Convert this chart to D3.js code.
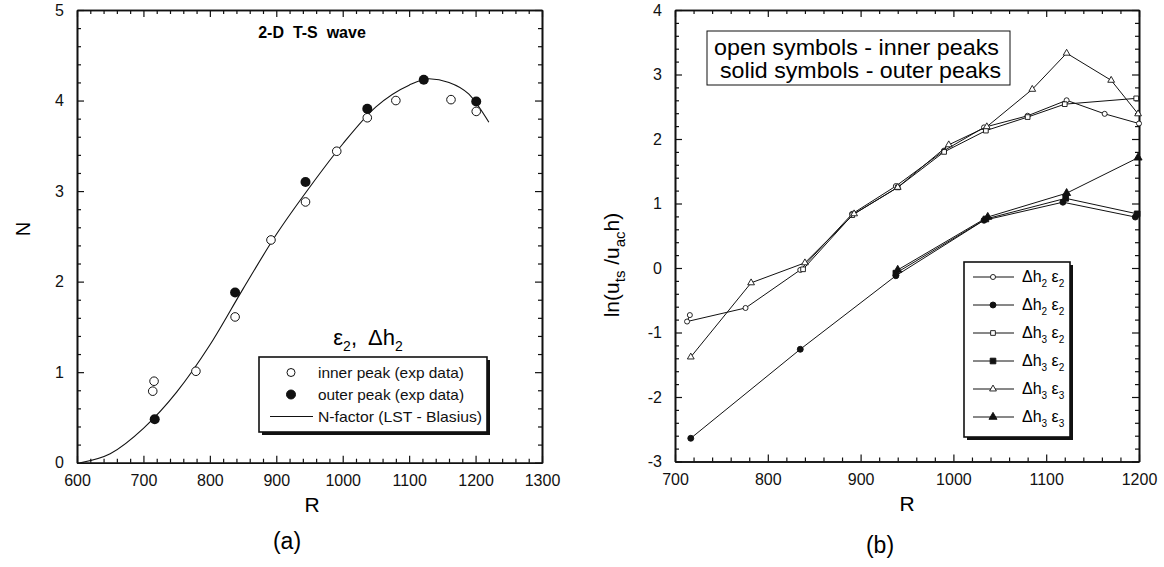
<!DOCTYPE html>
<html>
<head>
<meta charset="utf-8">
<script src="https://cdn.jsdelivr.net/npm/d3@7"></script>
<style>
  body { margin: 0; background: #fff; }
  svg { display: block; font-family: "Liberation Sans", Arial, Helvetica, sans-serif; }
</style>
</head>
<body>
<svg id="fig" width="1164" height="567"></svg>
<script>
// ---------- Panel (a): N-factor growth of the 2-D T-S wave ----------
const aTicksX = [600, 700, 800, 900, 1000, 1100, 1200, 1300];
const aTicksY = [0, 1, 2, 3, 4, 5];

// LST (Blasius) N-factor curve
const nfactorR = [605, 650, 700, 750, 800, 850, 900, 950, 1000, 1050, 1100, 1130, 1160, 1190, 1220];
const nfactorN = [0, 0.1, 0.38, 0.78, 1.3, 1.92, 2.52, 3.04, 3.52, 3.93, 4.17, 4.24, 4.2, 4.07, 3.76];

// experimental data, inner peak (open) and outer peak (solid)
const innerR = [716, 714, 779, 838, 892, 944, 991, 1037, 1080, 1163, 1201];
const innerN = [0.90, 0.79, 1.01, 1.61, 2.46, 2.88, 3.44, 3.81, 4.00, 4.01, 3.88];
const outerR = [717, 838, 944, 1037, 1122, 1201];
const outerN = [0.48, 1.88, 3.10, 3.91, 4.23, 3.99];

// ---------- Panel (b): ln(u_ts / u_ac h) ----------
const bTicksX = [700, 800, 900, 1000, 1100, 1200];
const bTicksY = [-3, -2, -1, 0, 1, 2, 3, 4];

// inner peaks (open symbols)
const h2e2InnerR = [716, 713, 776, 835, 891, 938, 990, 1033, 1080, 1122, 1163, 1200];
const h2e2InnerV = [-0.73, -0.83, -0.62, -0.03, 0.84, 1.27, 1.82, 2.18, 2.36, 2.60, 2.39, 2.24];
const h3e2InnerR = [838, 891, 940, 990, 1035, 1080, 1120, 1197];
const h3e2InnerV = [-0.02, 0.82, 1.25, 1.80, 2.13, 2.34, 2.54, 2.63];
const h3e3InnerR = [717, 782, 840, 893, 940, 995, 1036, 1085, 1122, 1170, 1199];
const h3e3InnerV = [-1.38, -0.23, 0.08, 0.84, 1.25, 1.91, 2.19, 2.77, 3.33, 2.91, 2.39];

// outer peaks (solid symbols)
const h2e2OuterR = [717, 835, 938, 1033, 1118, 1196];
const h2e2OuterV = [-2.64, -1.26, -0.12, 0.74, 1.02, 0.79];
const h3e2OuterR = [938, 1035, 1121, 1198];
const h3e2OuterV = [-0.08, 0.76, 1.08, 0.84];
const h3e3OuterR = [940, 1037, 1122, 1199];
const h3e3OuterV = [-0.03, 0.79, 1.16, 1.71];

const zip = (xs, ys) => xs.map((x, i) => [x, ys[i]]);

const svg = d3.select("#fig");
const INK = "#111";
const tickFmt = v => String(v); // plain hyphen for negatives

// Framed plot box with inward ticks on all four sides
function drawFrame(g, x, y, ticksX, ticksY, minorStepX, minorStepY) {
  const [x0, x1] = x.range();
  const [y0, y1] = y.range(); // y0 = bottom, y1 = top
  const dx = x.domain(), dy = y.domain();
  const minorX = d3.range(dx[0], dx[1] + 1e-9, minorStepX).filter(v => !ticksX.includes(Math.round(v)));
  const minorY = d3.range(dy[0], dy[1] + 1e-9, minorStepY)
    .filter(v => !ticksY.some(t => Math.abs(t - v) < 1e-6));

  const major = 7, minor = 4;
  const styleAxis = sel => {
    sel.attr("font-family", null).attr("font-size", null);
    sel.select(".domain").attr("stroke", INK).attr("stroke-width", 1.6);
    sel.selectAll(".tick line").attr("stroke", INK).attr("stroke-width", 1.2);
    sel.selectAll("text").attr("fill", INK).attr("font-size", 16);
  };

  // bottom
  g.append("g").attr("transform", `translate(0,${y0})`)
    .call(d3.axisBottom(x).tickValues(ticksX).tickSizeInner(-major).tickSizeOuter(0).tickPadding(12).tickFormat(tickFmt))
    .call(styleAxis);
  g.append("g").attr("transform", `translate(0,${y0})`)
    .call(d3.axisBottom(x).tickValues(minorX).tickSizeInner(-minor).tickSizeOuter(0).tickFormat(""))
    .call(styleAxis);
  // top
  g.append("g").attr("transform", `translate(0,${y1})`)
    .call(d3.axisTop(x).tickValues(ticksX).tickSizeInner(-major).tickSizeOuter(0).tickFormat(""))
    .call(styleAxis);
  g.append("g").attr("transform", `translate(0,${y1})`)
    .call(d3.axisTop(x).tickValues(minorX).tickSizeInner(-minor).tickSizeOuter(0).tickFormat(""))
    .call(styleAxis);
  // left
  g.append("g").attr("transform", `translate(${x0},0)`)
    .call(d3.axisLeft(y).tickValues(ticksY).tickSizeInner(-major).tickSizeOuter(0).tickPadding(13).tickFormat(tickFmt))
    .call(styleAxis);
  g.append("g").attr("transform", `translate(${x0},0)`)
    .call(d3.axisLeft(y).tickValues(minorY).tickSizeInner(-minor).tickSizeOuter(0).tickFormat(""))
    .call(styleAxis);
  // right
  g.append("g").attr("transform", `translate(${x1},0)`)
    .call(d3.axisRight(y).tickValues(ticksY).tickSizeInner(-major).tickSizeOuter(0).tickFormat(""))
    .call(styleAxis);
  g.append("g").attr("transform", `translate(${x1},0)`)
    .call(d3.axisRight(y).tickValues(minorY).tickSizeInner(-minor).tickSizeOuter(0).tickFormat(""))
    .call(styleAxis);
}

// Text with subscripts: parts = [[text, isSub], ...]
function richText(sel, parts, size, subSize, subShift) {
  let lowered = false;
  parts.forEach(([t, sub]) => {
    const ts = sel.append("tspan").text(t);
    if (sub) {
      ts.attr("font-size", subSize).attr("dy", subShift);
      lowered = true;
    } else {
      ts.attr("font-size", size);
      if (lowered) { ts.attr("dy", -subShift); lowered = false; }
    }
  });
  return sel;
}

function shadowBox(g, x, y, w, h) {
  g.append("rect").attr("x", x + 3).attr("y", y + 3).attr("width", w).attr("height", h).attr("fill", INK);
  g.append("rect").attr("x", x).attr("y", y).attr("width", w).attr("height", h)
    .attr("fill", "#fff").attr("stroke", INK).attr("stroke-width", 1.6);
}

// ================= Panel (a) =================
const ax = d3.scaleLinear().domain([600, 1300]).range([77, 542]);
const ay = d3.scaleLinear().domain([0, 5]).range([462.7, 10]);
const ga = svg.append("g");
drawFrame(ga, ax, ay, aTicksX, aTicksY, 20, 0.2);

ga.append("path")
  .datum(zip(nfactorR, nfactorN))
  .attr("fill", "none").attr("stroke", INK).attr("stroke-width", 1.1)
  .attr("d", d3.line().x(d => ax(d[0])).y(d => ay(d[1])).curve(d3.curveMonotoneX));

ga.selectAll("circle.inner").data(zip(innerR, innerN)).join("circle")
  .attr("class", "inner").attr("cx", d => ax(d[0])).attr("cy", d => ay(d[1])).attr("r", 4.3)
  .attr("fill", "#fff").attr("stroke", INK).attr("stroke-width", 1);
ga.selectAll("circle.outer").data(zip(outerR, outerN)).join("circle")
  .attr("class", "outer").attr("cx", d => ax(d[0])).attr("cy", d => ay(d[1])).attr("r", 5)
  .attr("fill", INK);

ga.append("text").attr("x", 312).attr("y", 38).attr("text-anchor", "middle")
  .attr("font-size", 16).attr("font-weight", "bold").attr("xml:space", "preserve")
  .text("2-D  T-S  wave");

richText(ga.append("text").attr("x", 368).attr("y", 345).attr("text-anchor", "middle").attr("font-size", 22)
  .attr("xml:space", "preserve"),
  [["\u03B5", false], ["2", true], [",  \u0394h", false], ["2", true]], 22, 14, 6);

// legend (a)
shadowBox(ga, 259, 357, 228, 75);
const legA = [
  { label: "inner peak (exp data)", kind: "open", len: 146 },
  { label: "outer peak (exp data)", kind: "solid", len: 146 },
  { label: "N-factor (LST - Blasius)", kind: "line", len: 164 }
];
legA.forEach((d, i) => {
  const yy = 372.5 + i * 22;
  if (d.kind === "line") {
    ga.append("line").attr("x1", 270).attr("x2", 313).attr("y1", yy).attr("y2", yy)
      .attr("stroke", INK).attr("stroke-width", 1);
  } else {
    ga.append("circle").attr("cx", 291).attr("cy", yy).attr("r", d.kind === "open" ? 4 : 4.5)
      .attr("fill", d.kind === "open" ? "#fff" : INK).attr("stroke", INK).attr("stroke-width", 1);
  }
  ga.append("text").attr("x", 318).attr("y", yy + 5).attr("font-size", 15).attr("fill", INK)
    .attr("textLength", d.len).attr("lengthAdjust", "spacingAndGlyphs").text(d.label);
});

// axis titles (a)
ga.append("text").attr("x", 312).attr("y", 512).attr("text-anchor", "middle").attr("font-size", 21).text("R");
ga.append("text").attr("transform", "translate(30,229) rotate(-90)").attr("text-anchor", "middle")
  .attr("font-size", 20).text("N");
ga.append("text").attr("x", 287).attr("y", 549).attr("text-anchor", "middle").attr("font-size", 23).text("(a)");

// ================= Panel (b) =================
const bx = d3.scaleLinear().domain([700, 1200]).range([675, 1139]);
const by = d3.scaleLinear().domain([-3, 4]).range([461.5, 10]);
const gb = svg.append("g");
drawFrame(gb, bx, by, bTicksX, bTicksY, 20, 0.2);

const series = [
  { R: h2e2InnerR, V: h2e2InnerV, sym: d3.symbolCircle, size: 20, fill: false, sub1: "2", sub2: "2" },
  { R: h2e2OuterR, V: h2e2OuterV, sym: d3.symbolCircle, size: 28, fill: true, sub1: "2", sub2: "2" },
  { R: h3e2InnerR, V: h3e2InnerV, sym: d3.symbolSquare, size: 22, fill: false, sub1: "3", sub2: "2" },
  { R: h3e2OuterR, V: h3e2OuterV, sym: d3.symbolSquare, size: 32, fill: true, sub1: "3", sub2: "2" },
  { R: h3e3InnerR, V: h3e3InnerV, sym: d3.symbolTriangle, size: 20, fill: false, sub1: "3", sub2: "3" },
  { R: h3e3OuterR, V: h3e3OuterV, sym: d3.symbolTriangle, size: 28, fill: true, sub1: "3", sub2: "3" }
];

const lineB = d3.line().x(d => bx(d[0])).y(d => by(d[1]));
series.forEach(s => {
  const pts = zip(s.R, s.V);
  gb.append("path").datum(pts).attr("fill", "none").attr("stroke", INK).attr("stroke-width", 1)
    .attr("d", lineB);
  gb.selectAll(null).data(pts).join("path")
    .attr("transform", d => `translate(${bx(d[0])},${by(d[1])})`)
    .attr("d", d3.symbol().type(s.sym).size(s.size))
    .attr("fill", s.fill ? INK : "#fff").attr("stroke", INK).attr("stroke-width", 0.9);
});

// annotation box
gb.append("rect").attr("x", 707).attr("y", 31).attr("width", 303).attr("height", 54)
  .attr("fill", "#fff").attr("stroke", INK).attr("stroke-width", 1);
gb.append("text").attr("x", 714).attr("y", 55).attr("font-size", 22)
  .attr("textLength", 285).attr("lengthAdjust", "spacingAndGlyphs")
  .text("open symbols - inner peaks");
gb.append("text").attr("x", 720).attr("y", 78).attr("font-size", 22)
  .attr("textLength", 281).attr("lengthAdjust", "spacingAndGlyphs")
  .text("solid symbols - outer peaks");

// legend (b)
shadowBox(gb, 964, 262, 106, 175);
series.forEach((s, i) => {
  const yy = 277 + i * 28;
  gb.append("line").attr("x1", 973).attr("x2", 1014).attr("y1", yy).attr("y2", yy)
    .attr("stroke", INK).attr("stroke-width", 1);
  gb.append("path").attr("transform", `translate(993,${yy})`)
    .attr("d", d3.symbol().type(s.sym).size(s.size))
    .attr("fill", s.fill ? INK : "#fff").attr("stroke", INK).attr("stroke-width", 0.9);
  richText(gb.append("text").attr("x", 1022).attr("y", yy + 5).attr("font-size", 16).attr("xml:space", "preserve"),
    [["\u0394h", false], [s.sub1, true], [" \u03B5", false], [s.sub2, true]], 16, 10, 5);
});

// axis titles (b)
gb.append("text").attr("x", 907).attr("y", 511).attr("text-anchor", "middle").attr("font-size", 21).text("R");
richText(gb.append("text").attr("transform", "translate(619,265) rotate(-90)").attr("text-anchor", "middle")
  .attr("font-size", 21).attr("xml:space", "preserve"),
  [["ln(u", false], ["ts", true], [" /u", false], ["ac", true], ["h)", false]], 21, 15, 6);
gb.append("text").attr("x", 880).attr("y", 553).attr("text-anchor", "middle").attr("font-size", 23).text("(b)");
</script>
</body>
</html>
